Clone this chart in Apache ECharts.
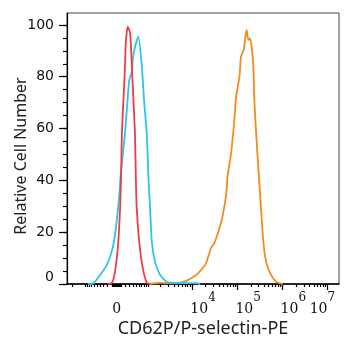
<!DOCTYPE html>
<html>
<head>
<meta charset="utf-8">
<script src="https://cdn.jsdelivr.net/npm/echarts@6/dist/echarts.min.js"></script>
<style>
html, body { margin: 0; padding: 0; background: #fff; }
#chart { width: 352px; height: 350px; }
</style>
</head>
<body>
<div id="chart"></div>
<script>
// x positions are on the display (biexponential) scale: asinh(intensity / 425)
const redX = [-0.43, -0.23, -0.11, 0.01, 0.09, 0.18, 0.23, 0.27, 0.35, 0.43, 0.47, 0.57, 0.69, 0.78, 0.86, 0.94, 0.98, 1.03, 1.16, 1.34, 1.54, 1.71];
const redY = [0, 0.5, 3.5, 10, 16.3, 29.3, 42, 58, 71, 84, 93, 99.3, 97, 84, 71, 58, 42, 29, 16, 6, 0.5, 0];

const cyanX = [-1.45, -1.18, -0.84, -0.5, -0.25, -0.08, 0.04, 0.14, 0.21, 0.43, 0.6, 0.65, 0.78, 0.83, 0.94, 1.11, 1.29, 1.4, 1.54, 1.62, 1.71, 1.8, 1.96, 2.22, 2.56, 2.88, 4.06, 4.26];
const cyanY = [0, 0.3, 3.5, 7.3, 12.5, 18.9, 26.6, 34.4, 42, 58.3, 75, 78.8, 82, 87, 91.6, 95.5, 84, 71, 58.3, 42, 29.3, 16.3, 8.6, 3.5, 0.9, 0.4, 0.3, 0];

const orangeX = [1.71, 2.22, 3.04, 3.55, 4.06, 4.31, 4.57, 4.82, 4.99, 5.25, 5.42, 5.59, 5.67, 5.84, 6.01, 6.1, 6.27, 6.35, 6.49, 6.57, 6.64, 6.72, 6.81, 6.91, 6.98, 7.03, 7.12, 7.26, 7.37, 7.49, 7.63, 7.88, 8.14, 8.48];
const orangeY = [0, 0.4, 0.3, 1.2, 3.5, 5.4, 8.1, 13.9, 15.8, 21.6, 26.6, 34.4, 42, 50.2, 63.3, 72.3, 80, 87.8, 90.4, 95.5, 98, 94.2, 94.9, 90.4, 84, 71, 58.3, 42, 29.3, 16.3, 8.6, 3.5, 0.9, 0];

const decadeValues = [1e4, 1e5, 1e6, 1e7];
const decadeExponents = ['4', '5', '6', '7'];
const yTicks = [0, 20, 40, 60, 80, 100];

const SCALE_W = 425;
const X_MIN = -2.53;
const X_MAX = 11.35;
const Y_MAX = 104.6;

function toDisplay(v) {
    return Math.asinh(v / SCALE_W);
}

function zip(xs, ys) {
    return xs.map((x, i) => [x, ys[i]]);
}

// minor ticks: linear part around zero, then log steps per decade
function buildMinorTicks() {
    const out = [-2000, -1000];
    for (let v = -900; v <= 900; v += 100) if (v !== 0) out.push(v);
    for (let v = -80; v <= 80; v += 20) out.push(v);
    for (let d = 1e3; d <= 1e6; d *= 10) {
        for (let m = 1; m <= 9; m++) out.push(m * d);
    }
    return out.map(toDisplay);
}

const decadeDisp = decadeValues.map(toDisplay);
const xLabelDisp = [0].concat(decadeDisp);
const yMinor = [];
for (let v = 0; v <= 100; v += 5) yMinor.push(v);

const tickStyle = { color: '#000', width: 1.2 };
const serif = 'DejaVu Serif';

const chart = echarts.init(document.getElementById('chart'));
chart.setOption({
    animation: false,
    grid: {
        left: 67, right: 13, top: 13, bottom: 66,
        outerBoundsMode: 'none',
        containLabel: false,
        show: true, borderColor: '#444', borderWidth: 1
    },
    xAxis: [{
        type: 'value',
        position: 'bottom',
        min: X_MIN,
        max: X_MAX,
        name: 'CD62P/P-selectin-PE',
        nameLocation: 'middle',
        nameGap: 36,
        nameMoveOverlap: false,
        nameTextStyle: { fontFamily: 'Noto Sans', fontSize: 18, color: '#222' },
        axisLine: { onZero: false, lineStyle: { color: '#000', width: 1.5 } },
        axisTick: { customValues: decadeDisp, length: 6, lineStyle: tickStyle },
        splitLine: { show: false },
        axisLabel: {
            customValues: xLabelDisp,
            margin: 8,
            formatter: function (val) {
                if (Math.abs(val) < 1e-6) return '{n|0}';
                const i = decadeDisp.findIndex(d => Math.abs(d - val) < 1e-6);
                if (i < 0) return '';
                if (i === decadeDisp.length - 1) return '{n|10}{e|' + decadeExponents[i] + '}{r| }';
                return '{l| }{n|10}{e|' + decadeExponents[i] + '}';
            },
            rich: {
                n: { fontFamily: serif, fontSize: 14, color: '#111', lineHeight: 24, verticalAlign: 'bottom' },
                e: { fontFamily: serif, fontSize: 12, color: '#111', lineHeight: 24, verticalAlign: 'top' },
                l: { fontSize: 12, width: 22, lineHeight: 24 },
                r: { fontSize: 12, width: 10, lineHeight: 24 }
            }
        }
    }, {
        type: 'value',
        position: 'bottom',
        min: X_MIN,
        max: X_MAX,
        axisLine: { show: false, onZero: false },
        axisTick: { customValues: buildMinorTicks(), length: 3, lineStyle: tickStyle },
        axisLabel: { show: false },
        splitLine: { show: false }
    }],
    yAxis: [{
        type: 'value',
        position: 'left',
        min: 0,
        max: Y_MAX,
        name: 'Relative Cell Number',
        nameLocation: 'middle',
        nameGap: 38,
        nameMoveOverlap: false,
        nameTextStyle: { fontFamily: 'Noto Sans', fontSize: 16, color: '#222', padding: [0, 15, 0, 0] },
        axisLine: { show: true, onZero: false, lineStyle: { color: '#000', width: 1.2 } },
        axisTick: { customValues: yTicks, length: 8, lineStyle: tickStyle },
        splitLine: { show: false },
        axisLabel: {
            customValues: yTicks,
            margin: 13,
            fontFamily: 'DejaVu Sans',
            fontSize: 14,
            color: '#111',
            formatter: function (v) {
                return v === 0 ? '{z|0}' : String(v);
            },
            rich: {
                z: { fontFamily: 'DejaVu Sans', fontSize: 14, color: '#111', padding: [0, 0, 14, 0] }
            }
        }
    }, {
        type: 'value',
        position: 'left',
        min: 0,
        max: Y_MAX,
        axisLine: { show: false, onZero: false },
        axisTick: { customValues: yMinor, length: 4, lineStyle: tickStyle },
        axisLabel: { show: false },
        splitLine: { show: false }
    }],
    series: [{
        type: 'line',
        data: zip(orangeX, orangeY),
        showSymbol: false,
        smooth: 0.2,
        lineStyle: { color: '#f28c1f', width: 1.8 }
    }, {
        type: 'line',
        data: zip(cyanX, cyanY),
        showSymbol: false,
        smooth: 0.2,
        lineStyle: { color: '#2ec4ea', width: 1.8 }
    }, {
        type: 'line',
        data: zip(redX, redY),
        showSymbol: false,
        smooth: 0.2,
        lineStyle: { color: '#ef3d45', width: 1.8 }
    }]
});

window.addEventListener('resize', function () {
    chart.resize();
});
</script>
</body>
</html>
